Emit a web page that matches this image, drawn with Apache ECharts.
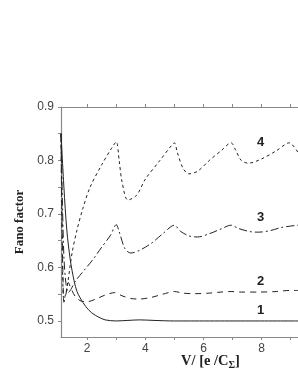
<!DOCTYPE html>
<html><head><meta charset="utf-8">
<script src="https://cdn.jsdelivr.net/npm/echarts@6/dist/echarts.min.js"></script>
<style>html,body{margin:0;padding:0;background:#fff}#c{width:298px;height:385px}</style>
</head><body><div id="c"></div>
<script>
const xTickLabels = [2, 4, 6, 8];
const xTicks = [2, 3, 4, 5, 6, 7, 8, 9];
const yTickLabels = [0.5, 0.6, 0.7, 0.8, 0.9];
const yTicks = [0.5, 0.55, 0.6, 0.65, 0.7, 0.75, 0.8, 0.85, 0.9];
const curve1 = [[1.1,0.85],[1.2,0.75],[1.3,0.67],[1.42,0.614],[1.55,0.575],[1.65,0.555],[1.76,0.543],[1.95,0.527],[2.16,0.515],[2.4,0.507],[2.62,0.502],[3.0,0.5],[3.4,0.501],[3.8,0.502],[4.3,0.501],[5,0.5],[9.25,0.5]];
const curve2 = [[1.1,0.85],[1.13,0.7],[1.17,0.58],[1.2,0.535],[1.27,0.55],[1.35,0.572],[1.45,0.56],[1.6,0.545],[1.8,0.537],[2.0,0.536],[2.3,0.541],[2.6,0.548],[2.95,0.553],[3.2,0.547],[3.5,0.542],[3.8,0.541],[4.2,0.544],[4.6,0.55],[5.0,0.555],[5.3,0.552],[5.7,0.551],[6.2,0.552],[6.6,0.554],[6.95,0.555],[7.3,0.554],[7.9,0.554],[8.5,0.555],[8.95,0.557],[9.25,0.557]];
const curve3 = [[1.1,0.85],[1.15,0.72],[1.2,0.62],[1.27,0.57],[1.35,0.553],[1.45,0.56],[1.6,0.575],[1.9,0.595],[2.2,0.615],[2.5,0.638],[2.8,0.66],[3.0,0.68],[3.1,0.667],[3.3,0.635],[3.5,0.627],[3.8,0.632],[4.2,0.645],[4.6,0.663],[5.0,0.679],[5.2,0.668],[5.5,0.659],[5.8,0.657],[6.2,0.663],[6.6,0.672],[6.95,0.679],[7.2,0.673],[7.6,0.667],[7.9,0.666],[8.3,0.669],[8.7,0.675],[9.25,0.679]];
const curve4 = [[1.1,0.85],[1.13,0.7],[1.16,0.58],[1.2,0.54],[1.3,0.56],[1.48,0.627],[1.65,0.67],[1.85,0.71],[2.1,0.75],[2.5,0.792],[2.84,0.823],[3.0,0.835],[3.1,0.80],[3.2,0.76],[3.4,0.726],[3.7,0.735],[4.0,0.765],[4.5,0.8],[4.9,0.828],[5.0,0.833],[5.1,0.815],[5.3,0.785],[5.5,0.775],[5.8,0.78],[6.2,0.80],[6.6,0.818],[6.95,0.833],[7.1,0.82],[7.3,0.80],[7.55,0.795],[8.0,0.803],[8.5,0.818],[8.95,0.833],[9.25,0.815]];
const curveNames = ['1', '2', '3', '4'];

const axisColor = '#888';
const lineColor = '#222';
const chart = echarts.init(document.getElementById('c'), null, {renderer: 'canvas'});
function mk(name, data, type) {
  return {name, type: 'line', data, showSymbol: false, smooth: 0.3, clip: true,
    lineStyle: {color: lineColor, width: 1, type}, silent: true};
}
chart.setOption({
  animation: false,
  grid: {left: 61, top: 107, right: 0, bottom: 48},
  xAxis: [{
    type: 'value', min: 1.1, max: 9.25, position: 'bottom',
    axisLine: {lineStyle: {color: axisColor, width: 1.2}},
    axisTick: {show: true, inside: false, length: 3, customValues: xTicks, lineStyle: {color: axisColor}},
    axisLabel: {customValues: xTickLabels, color: '#444', fontSize: 12, fontFamily: 'Liberation Sans, Arial', margin: 6},
    splitLine: {show: false}
  }, {
    type: 'value', min: 1.1, max: 9.25, position: 'top',
    axisLine: {show: true, lineStyle: {color: axisColor, width: 1.2}},
    axisTick: {show: true, inside: false, length: 3, customValues: xTicks, lineStyle: {color: axisColor}},
    axisLabel: {show: false}, splitLine: {show: false}
  }],
  yAxis: {
    type: 'value', min: 0.47, max: 0.9,
    axisLine: {show: true, lineStyle: {color: axisColor, width: 1.2}},
    axisTick: {show: true, inside: false, length: 3, customValues: yTicks, lineStyle: {color: axisColor}},
    axisLabel: {customValues: yTickLabels, color: '#444', fontSize: 12, fontFamily: 'Liberation Sans, Arial', margin: 7,
      formatter: v => v.toFixed(1)},
    splitLine: {show: false},
    name: 'Fano factor', nameLocation: 'middle', nameGap: 31, nameRotate: 90,
    nameTextStyle: {fontFamily: 'Liberation Serif, Times New Roman', fontWeight: 'bold', fontSize: 13, color: '#222'}
  },
  series: [
    mk(curveNames[0], curve1, 'solid'),
    mk(curveNames[1], curve2, [6, 5]),
    mk(curveNames[2], curve3, [8, 3, 2, 3]),
    mk(curveNames[3], curve4, [3, 3])
  ],
  graphic: [
    {type: 'text', left: 181, top: 354, style: {
      text: '{a|V/ [e /C}{s|Σ}{a|]}',
      rich: {a: {fontFamily: 'Liberation Serif, Times New Roman', fontWeight: 'bold', fontSize: 14.5, fill: '#222'},
             s: {fontFamily: 'Liberation Serif, Times New Roman', fontWeight: 'bold', fontSize: 10, fill: '#222', verticalAlign: 'bottom', padding: [7, 0, 0, 0]}}}},
    {type: 'text', left: 257, top: 136, style: {text: curveNames[3], font: 'bold 13px Liberation Sans, Arial', fill: '#222'}},
    {type: 'text', left: 257, top: 211, style: {text: curveNames[2], font: 'bold 13px Liberation Sans, Arial', fill: '#222'}},
    {type: 'text', left: 257, top: 275, style: {text: curveNames[1], font: 'bold 13px Liberation Sans, Arial', fill: '#222'}},
    {type: 'text', left: 257, top: 304, style: {text: curveNames[0], font: 'bold 13px Liberation Sans, Arial', fill: '#222'}}
  ]
});
</script></body></html>
